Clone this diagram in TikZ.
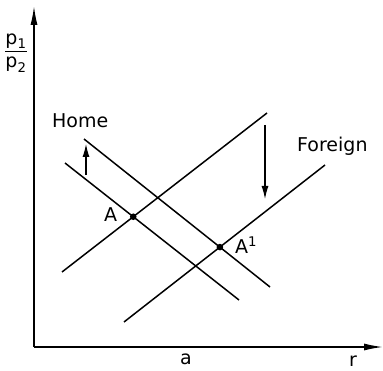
\documentclass[tikz,border=0pt]{standalone}
\usepackage{amsmath}
\usepackage{fontspec}
\setmainfont{DejaVu Sans}
\usepackage{tikz}
\usetikzlibrary{calc, arrows.meta}
\usepackage{tkz-euclide}

\begin{document}
\begin{tikzpicture}[x=1pt, y=1pt,
    lbl/.style={font=\fontsize{19}{22}\selectfont, inner sep=0pt},
    seg/.style={black, line width=1.5pt},
    axisarrow/.style={seg, -{Latex[length=19pt, width=7pt]}},
    movearrow/.style={black, line width=1.1pt, -{Latex[length=13pt, width=7pt]}}]
            \useasboundingbox (0,0) rectangle (383,370);
            \tkzDefPoints{34/23/O, 34/364/Y, 383/23/X}
            \tkzDefPoints{84/231/Ha, 270/83/Hb, 65/207/Hc, 239/70/Hd}
            \tkzDefPoints{62/98/Fa, 267/257/Fb, 124/48/Fc, 325/205/Fd}
            \tkzDefPoints{86/195/Ua, 86/226/Ub, 265/245/Da, 265/171/Db}
            \coordinate (A) at (intersection of Hc--Hd and Fa--Fb);
            \coordinate (A1) at (intersection of Ha--Hb and Fc--Fd);
            \draw[axisarrow] (O) -- (Y);
            \draw[axisarrow] (O) -- (X);
            \draw[seg] (Ha) -- (Hb) (Hc) -- (Hd) (Fa) -- (Fb) (Fc) -- (Fd);
            \draw[movearrow] (Ua) -- (Ub);
            \draw[movearrow] (Da) -- (Db);
            \fill (A) circle (3.3) (A1) circle (3.3);
            \node[lbl, anchor=base west] (home) at (52,242) {Home};
            \node[lbl, anchor=base west] (foreign) at (297,218) {Foreign};
            \node[lbl, anchor=base east] (labA) at ($(A)+(-16,-5)$) {A};
            \node[lbl, anchor=base west] (labAone) at ($(A1)+(15,-6)$) {A\textsuperscript{1}};
            \node[lbl, anchor=base] (laba) at (186,6) {a};
            \node[lbl, anchor=base] (labr) at (353,4) {r};
            \node[lbl] (ratio) at (16,317) {$\dfrac{\text{p}_{\text{1}}}{\text{p}_{\text{2}}}$};
        \end{tikzpicture}
\end{document}
